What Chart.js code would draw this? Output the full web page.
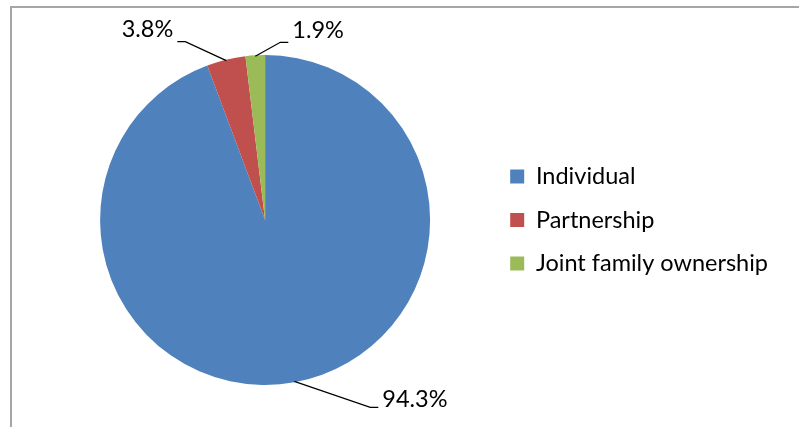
<!DOCTYPE html>
<html>
<head>
<meta charset="utf-8">
<script src="https://cdn.jsdelivr.net/npm/chart.js@4.4.0/dist/chart.umd.min.js"></script>
<style>
  html, body { margin: 0; padding: 0; background: #fff; overflow: hidden; }
  #wrap { position: relative; width: 799px; height: 427px; }
  #frame { position: absolute; left: 10px; top: 6px; right: -5px; bottom: -5px;
           border-top: 2px solid #a6a6a6; border-left: 2px solid #a6a6a6; }
  canvas { position: absolute; left: 0; top: 0; }
</style>
</head>
<body>
<div id="wrap">
  <div id="frame"></div>
  <canvas id="pieChart" width="799" height="427"></canvas>
</div>
<script>
// ================= DATA =================
const categories = ["Individual", "Partnership", "Joint family ownership"];
const shares = [94.3, 3.8, 1.9];
const sliceColors = ["#4F81BD", "#C0504D", "#9BBB59"];

// leader line bend for each label, relative to the slice's edge point
const labelElbows = [
    { dx: 76, dy: 26, side: "right", textDy: -8 },
    { dx: -41, dy: -19, side: "left", textDy: -12 },
    { dx: 25, dy: -14, side: "right", textDy: -12 }
];

const FONT = "Lato";

// ================= LABELS WITH LEADER LINES =================
const leaderLabels = {
    id: "leaderLabels",
    afterDatasetsDraw(chart) {
        const ctx = chart.ctx;
        const meta = chart.getDatasetMeta(0);
        ctx.save();
        ctx.strokeStyle = "#000";
        ctx.lineWidth = 1.3;
        ctx.fillStyle = "#000";
        ctx.font = "23.5px " + FONT;
        ctx.textBaseline = "middle";
        meta.data.forEach((arc, i) => {
            const p = arc.getProps(["x", "y", "startAngle", "endAngle", "outerRadius"], true);
            const mid = (p.startAngle + p.endAngle) / 2;
            const sx = p.x + Math.cos(mid) * (p.outerRadius - 1);
            const sy = p.y + Math.sin(mid) * (p.outerRadius - 1);
            const e = labelElbows[i];
            const dir = e.side === "right" ? 1 : -1;
            const ex = sx + e.dx, ey = sy + e.dy;
            const hx = ex + dir * 8;
            ctx.beginPath();
            ctx.moveTo(sx, sy);
            ctx.lineTo(ex, ey);
            ctx.lineTo(hx, ey);
            ctx.stroke();
            ctx.textAlign = e.side === "right" ? "left" : "right";
            ctx.fillText(shares[i].toFixed(1) + "%", hx + dir * 4, ey + e.textDy);
        });
        ctx.restore();
    }
};

// ================= PIE =================
new Chart(document.getElementById("pieChart"), {
    type: "pie",
    data: {
        labels: categories,
        datasets: [{
            data: shares,
            backgroundColor: sliceColors,
            borderWidth: 0
        }]
    },
    options: {
        responsive: false,
        animation: false,
        layout: { padding: { left: 40, right: 21, top: 55, bottom: 42 } },
        plugins: {
            legend: {
                position: "right",
                labels: {
                    boxWidth: 14,
                    boxHeight: 14,
                    padding: 20,
                    color: "#000",
                    font: { family: FONT, size: 23.5 }
                }
            },
            tooltip: { enabled: false }
        }
    },
    plugins: [leaderLabels]
});
</script>
</body>
</html>
